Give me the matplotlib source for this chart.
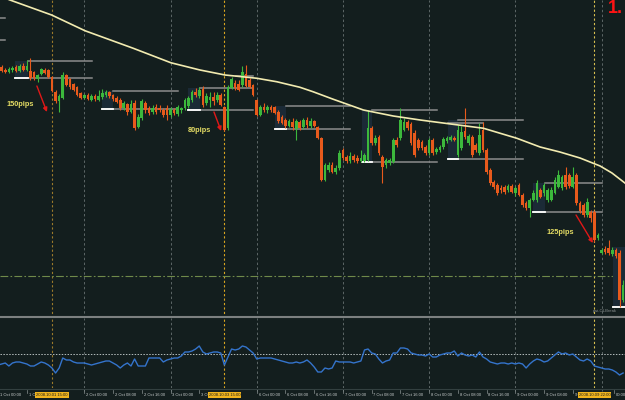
import matplotlib
matplotlib.use('Agg')
import matplotlib.pyplot as plt
from matplotlib.lines import Line2D
import numpy as np

# EURUSD H1, bar 0 = 1 Oct 2008 00:00 (weekend skipped)
opens = [1.4074, 1.4082, 1.4070, 1.4062, 1.4070, 1.4082, 1.4066, 1.4086, 1.4070, 1.4066,
         1.4062, 1.4034, 1.4054, 1.4070, 1.4070, 1.4042, 1.3982, 1.3946, 1.3958, 1.4050,
         1.4034, 1.4014, 1.4002, 1.3978, 1.3958, 1.3970, 1.3950, 1.3966, 1.3950, 1.3962,
         1.3970, 1.3982, 1.3970, 1.3958, 1.3950, 1.3918, 1.3934, 1.3902, 1.3938, 1.3842,
         1.3878, 1.3938, 1.3918, 1.3902, 1.3922, 1.3918, 1.3910, 1.3918, 1.3890, 1.3910,
         1.3894, 1.3910, 1.3918, 1.3926, 1.3950, 1.3982, 1.3966, 1.3994, 1.3938, 1.3950,
         1.3962, 1.3950, 1.3970, 1.3922, 1.3838, 1.3998, 1.4018, 1.4014, 1.4010, 1.4054,
         1.4030, 1.4010, 1.3950, 1.3890, 1.3922, 1.3910, 1.3922, 1.3922, 1.3902, 1.3882,
         1.3870, 1.3846, 1.3862, 1.3834, 1.3862, 1.3842, 1.3870, 1.3846, 1.3866, 1.3842,
         1.3798, 1.3630, 1.3670, 1.3690, 1.3662, 1.3678, 1.3750, 1.3722, 1.3706, 1.3726,
         1.3718, 1.3706, 1.3706, 1.3710, 1.3838, 1.3778, 1.3802, 1.3722, 1.3690, 1.3698,
         1.3702, 1.3790, 1.3798, 1.3830, 1.3862, 1.3854, 1.3818, 1.3790, 1.3782, 1.3762,
         1.3738, 1.3790, 1.3742, 1.3750, 1.3762, 1.3786, 1.3790, 1.3798, 1.3730, 1.3758,
         1.3826, 1.3778, 1.3802, 1.3770, 1.3738, 1.3830, 1.3750, 1.3670, 1.3622, 1.3610,
         1.3598, 1.3602, 1.3590, 1.3606, 1.3578, 1.3610, 1.3570, 1.3538, 1.3518, 1.3550,
         1.3550, 1.3590, 1.3578, 1.3550, 1.3550, 1.3578, 1.3602, 1.3598, 1.3650, 1.3650,
         1.3602, 1.3650, 1.3538, 1.3530, 1.3490, 1.3502, 1.3502, 1.3398, 1.3338, 1.3354,
         1.3358, 1.3334, 1.3350, 1.3338, 1.3150]
highs = [1.4086, 1.4090, 1.4078, 1.4082, 1.4086, 1.4090, 1.4094, 1.4098, 1.4110, 1.4118,
         1.4066, 1.4054, 1.4078, 1.4078, 1.4074, 1.4046, 1.3990, 1.3974, 1.4062, 1.4054,
         1.4038, 1.4018, 1.4006, 1.3982, 1.3974, 1.3978, 1.3974, 1.3974, 1.3990, 1.3994,
         1.3990, 1.3986, 1.3974, 1.3966, 1.3958, 1.3946, 1.3938, 1.3950, 1.3950, 1.3894,
         1.3954, 1.3946, 1.3926, 1.3930, 1.3934, 1.3930, 1.3918, 1.3930, 1.3922, 1.3918,
         1.3930, 1.3922, 1.3958, 1.3966, 1.3990, 1.3998, 1.4002, 1.4006, 1.3978, 1.3982,
         1.3982, 1.3982, 1.3978, 1.3926, 1.4010, 1.4042, 1.4030, 1.4030, 1.4086, 1.4090,
         1.4038, 1.4014, 1.3954, 1.3930, 1.3938, 1.3930, 1.3930, 1.3926, 1.3910, 1.3890,
         1.3878, 1.3874, 1.3878, 1.3874, 1.3870, 1.3878, 1.3882, 1.3878, 1.3870, 1.3846,
         1.3802, 1.3698, 1.3702, 1.3702, 1.3690, 1.3750, 1.3758, 1.3730, 1.3742, 1.3734,
         1.3730, 1.3750, 1.3738, 1.3910, 1.3846, 1.3810, 1.3810, 1.3730, 1.3718, 1.3718,
         1.3798, 1.3802, 1.3918, 1.3878, 1.3870, 1.3862, 1.3830, 1.3798, 1.3790, 1.3770,
         1.3798, 1.3798, 1.3762, 1.3770, 1.3802, 1.3806, 1.3810, 1.3806, 1.3850, 1.3846,
         1.3918, 1.3814, 1.3810, 1.3778, 1.3858, 1.3862, 1.3758, 1.3678, 1.3630, 1.3618,
         1.3610, 1.3610, 1.3614, 1.3614, 1.3606, 1.3618, 1.3578, 1.3546, 1.3558, 1.3590,
         1.3630, 1.3598, 1.3618, 1.3598, 1.3602, 1.3642, 1.3670, 1.3650, 1.3682, 1.3658,
         1.3682, 1.3658, 1.3546, 1.3538, 1.3558, 1.3510, 1.3510, 1.3418, 1.3358, 1.3366,
         1.3390, 1.3362, 1.3358, 1.3350, 1.3230]
lows = [1.4062, 1.4062, 1.4058, 1.4058, 1.4062, 1.4062, 1.4062, 1.4066, 1.4066, 1.4030,
        1.4030, 1.4022, 1.4050, 1.4054, 1.4038, 1.3982, 1.3938, 1.3902, 1.3954, 1.4006,
        1.3994, 1.3986, 1.3966, 1.3954, 1.3954, 1.3950, 1.3946, 1.3946, 1.3946, 1.3954,
        1.3962, 1.3958, 1.3946, 1.3938, 1.3910, 1.3910, 1.3890, 1.3898, 1.3830, 1.3838,
        1.3870, 1.3898, 1.3890, 1.3894, 1.3894, 1.3902, 1.3882, 1.3870, 1.3882, 1.3890,
        1.3886, 1.3898, 1.3910, 1.3918, 1.3942, 1.3962, 1.3958, 1.3922, 1.3930, 1.3922,
        1.3930, 1.3942, 1.3926, 1.3826, 1.3830, 1.3994, 1.3990, 1.3986, 1.4002, 1.4002,
        1.3998, 1.3966, 1.3886, 1.3886, 1.3902, 1.3898, 1.3902, 1.3894, 1.3858, 1.3854,
        1.3838, 1.3842, 1.3830, 1.3790, 1.3830, 1.3834, 1.3838, 1.3838, 1.3842, 1.3794,
        1.3626, 1.3626, 1.3662, 1.3658, 1.3654, 1.3670, 1.3710, 1.3698, 1.3698, 1.3702,
        1.3698, 1.3702, 1.3702, 1.3706, 1.3770, 1.3770, 1.3730, 1.3618, 1.3678, 1.3690,
        1.3698, 1.3762, 1.3790, 1.3826, 1.3830, 1.3770, 1.3722, 1.3750, 1.3750, 1.3730,
        1.3730, 1.3730, 1.3734, 1.3742, 1.3754, 1.3778, 1.3786, 1.3786, 1.3722, 1.3750,
        1.3794, 1.3770, 1.3722, 1.3742, 1.3730, 1.3742, 1.3654, 1.3610, 1.3594, 1.3570,
        1.3578, 1.3574, 1.3582, 1.3578, 1.3566, 1.3566, 1.3522, 1.3510, 1.3482, 1.3546,
        1.3542, 1.3558, 1.3566, 1.3542, 1.3546, 1.3574, 1.3598, 1.3590, 1.3594, 1.3598,
        1.3598, 1.3530, 1.3498, 1.3482, 1.3482, 1.3462, 1.3382, 1.3390, 1.3334, 1.3334,
        1.3330, 1.3326, 1.3318, 1.3122, 1.3142]
closes = [1.4070, 1.4066, 1.4062, 1.4074, 1.4078, 1.4066, 1.4086, 1.4070, 1.4086, 1.4038,
          1.4038, 1.4050, 1.4074, 1.4058, 1.4042, 1.3986, 1.3946, 1.3966, 1.4050, 1.4010,
          1.4002, 1.3990, 1.3970, 1.3958, 1.3970, 1.3954, 1.3966, 1.3954, 1.3966, 1.3978,
          1.3982, 1.3966, 1.3954, 1.3942, 1.3918, 1.3938, 1.3902, 1.3934, 1.3838, 1.3882,
          1.3946, 1.3910, 1.3898, 1.3918, 1.3902, 1.3910, 1.3890, 1.3890, 1.3914, 1.3898,
          1.3922, 1.3918, 1.3950, 1.3958, 1.3982, 1.3970, 1.3990, 1.3930, 1.3966, 1.3962,
          1.3946, 1.3970, 1.3930, 1.3830, 1.4002, 1.4034, 1.3998, 1.3990, 1.4062, 1.4006,
          1.4002, 1.3970, 1.3890, 1.3922, 1.3910, 1.3922, 1.3910, 1.3898, 1.3866, 1.3858,
          1.3846, 1.3866, 1.3842, 1.3866, 1.3838, 1.3870, 1.3850, 1.3866, 1.3846, 1.3798,
          1.3630, 1.3690, 1.3690, 1.3662, 1.3678, 1.3738, 1.3718, 1.3706, 1.3726, 1.3710,
          1.3706, 1.3718, 1.3730, 1.3838, 1.3778, 1.3798, 1.3738, 1.3682, 1.3710, 1.3710,
          1.3790, 1.3770, 1.3870, 1.3862, 1.3838, 1.3778, 1.3730, 1.3758, 1.3758, 1.3738,
          1.3790, 1.3738, 1.3754, 1.3762, 1.3794, 1.3798, 1.3802, 1.3790, 1.3830, 1.3822,
          1.3802, 1.3806, 1.3730, 1.3750, 1.3810, 1.3750, 1.3662, 1.3618, 1.3602, 1.3578,
          1.3590, 1.3582, 1.3606, 1.3582, 1.3598, 1.3570, 1.3530, 1.3518, 1.3550, 1.3578,
          1.3618, 1.3562, 1.3610, 1.3590, 1.3590, 1.3630, 1.3650, 1.3642, 1.3602, 1.3606,
          1.3642, 1.3538, 1.3506, 1.3490, 1.3542, 1.3478, 1.3390, 1.3410, 1.3350, 1.3342,
          1.3338, 1.3350, 1.3326, 1.3150, 1.3210]

# moving average, read at a few bars
ma_bars = [0.5, 3.3, 14.9, 24.2, 37.6, 48.1, 56.2, 63.2, 72.0, 77.6, 84.0, 87.7,
           93.3, 101.7, 110.0, 117.5, 121.2, 135.1, 144.4, 150.9, 156.4, 162.0, 167.6,
           170.9, 174.5]
ma_vals = [1.4366, 1.4350, 1.4290, 1.4227, 1.4157, 1.4099, 1.4070, 1.4050, 1.4037, 1.4023,
           1.4001, 1.3983, 1.3953, 1.3910, 1.3886, 1.3870, 1.3863, 1.3837, 1.3797, 1.3762,
           1.3742, 1.3718, 1.3686, 1.3658, 1.3618]

# lower window oscillator, one value per bar
osc = [-11, -10, -9, -12, -9, -8, -8, -9, -10, -12,
       -12, -10, -8, -9, -11, -14, -19, -14, -4, -6,
       -6, -8, -9, -9, -9, -10, -11, -10, -9, -8,
       -7, -7, -9, -11, -14, -11, -9, -12, -5, -12,
       -12, -12, -4, -4, -4, -4, -8, -6, -5, -4,
       -4, -2, 2, 2, 3, 5, 8, 2, 0, 1,
       2, 2, 1, -11, -3, 5, 4, 5, 8, 7,
       4, 1, -5, -4, -4, -4, -4, -5, -6, -7,
       -8, -9, -9, -8, -9, -8, -6, -9, -13, -18,
       -18, -14, -15, -14, -7, -8, -8, -8, -8, -9,
       -8, -7, 4, 5, 1, 0, -5, -9, -7, -6,
       1, 1, 6, 6, 5, 1, 0, -1, -1, -2,
       0, -3, -3, -1, 0, 1, 1, 3, -2, 1,
       -1, -2, -1, -3, 2, -3, -5, -8, -9, -10,
       -9, -9, -10, -9, -10, -9, -10, -14, -10, -7,
       -5, -6, -8, -7, -4, -1, 2, 0, 1, -1,
       0, -3, -6, -7, -5, -7, -12, -13, -14, -15,
       -15, -16, -18, -21, -19]

# session range boxes
box_start = [4.7, 28.9, 52.9, 77.1, 101.3, 125.3, 148.9, 171.2]
box_end = [8.3, 32.0, 56.2, 80.2, 104.1, 128.0, 152.3, 175.0]
line_end = [26.1, 50.1, 71.0, 98.0, 122.2, 146.1, 168.1, 175.0]
box_top = [1.4106, 1.3986, 1.3998, 1.3926, 1.3910, 1.3870, 1.3618, 1.3362]
box_bottom = [1.4038, 1.3914, 1.3910, 1.3834, 1.3702, 1.3714, 1.3502, 1.3122]
extra_lines = [(66.2, 71.0, 1.4046), (125.3, 135.0, 1.3858), (0.5, 1.9, 1.4278), (0.5, 1.9, 1.4190)]

pip_labels = ['150pips', '80pips', '125pips']
pip_x = [6.1, 56.1, 156.6]
pip_y = [1.3932, 1.3830, 1.3421]
arrow_from = [(10.8, 1.4006), (60.1, 1.3902), (160.9, 1.3490)]
arrow_to = [(13.6, 1.3902), (62.1, 1.3826), (165.6, 1.3378)]

day_bars = [24, 48, 72, 96, 120, 144, 168]
marker_bars = [15, 63, 166]
marker_labels = ['2008.10.01 15:00', '2008.10.03 15:00', '2008.10.09 22:00']
marker_colors = ['#9c7a2a', '#d9a520', '#d8c050']
# labels partly hidden behind the marker boxes are cut as in the terminal
tick_bars = [0, 8, 24, 32, 40, 48, 56, 72, 80, 88, 96, 104, 112, 120, 128, 136, 144,
             152, 160, 171.6]
tick_labels = ['1 Oct 00:00', '1 O', '2 Oct 00:00', '2 Oct 08:00', '2 Oct 16:00',
               '3 Oct 00:00', '3 O', '6 Oct 00:00', '6 Oct 08:00', '6 Oct 16:00',
               '7 Oct 00:00', '7 Oct 08:00', '7 Oct 16:00', '8 Oct 00:00', '8 Oct 08:00',
               '8 Oct 16:00', '9 Oct 00:00', '9 Oct 08:00', '9', '00:00']

BG = '#131e1e'
BULL = '#3cb83c'
BEAR = '#e85a1c'
GRID = '#5d6767'
XLIM = (0.53, 174.53)

plt.rcParams['font.family'] = ['Liberation Sans', 'DejaVu Sans']

fig = plt.figure(figsize=(6.25, 4), dpi=100, facecolor=BG)
ax = fig.add_axes([0, 82 / 400, 1, 318 / 400])
ind = fig.add_axes([0, 12 / 400, 1, 70 / 400])
tax = fig.add_axes([0, 0, 1, 12 / 400])
for a in (ax, ind, tax):
    a.set_facecolor(BG)
    a.set_xlim(*XLIM)
    a.axis('off')
ax.set_ylim(1.3078, 1.4350)
ind.set_ylim(-34, 36)
tax.set_ylim(0, 1)

# grid and event markers
for b in day_bars:
    for a in (ax, ind):
        a.axvline(b, color=GRID, lw=0.7, ls=(0, (2.5, 2.5)), zorder=1)
    tax.plot([b, b], [0.75, 1], color=GRID, lw=0.7, ls=(0, (2, 2)))
for b, c in zip(marker_bars, marker_colors):
    for a in (ax, ind):
        a.axvline(b, color=c, lw=0.8, ls=(0, (2, 2)), zorder=1)

# range boxes
for s, e, le, t, bt in zip(box_start, box_end, line_end, box_top, box_bottom):
    ax.fill_between([s, e], bt, t, color='#1b2a36', lw=0, zorder=1.5)
    ax.plot([e, le], [t, t], color='#8c8c8c', lw=1.1, zorder=2)
    ax.plot([s, le], [bt, bt], color='#8c8c8c', lw=1.1, zorder=2)
    ax.plot([s, e], [bt, bt], color='white', lw=1.3, zorder=2.5)
for s, e, v in extra_lines:
    ax.plot([s, e], [v, v], color='#8c8c8c', lw=1.1, zorder=2)

ax.axhline(1.3246, color='#6f8a4a', lw=0.8, ls=(0, (7, 2, 1.5, 2)), zorder=1)

# candles
o = np.array(opens)
h = np.array(highs)
l = np.array(lows)
c = np.array(closes)
idx = np.arange(len(o))
cols = np.where(c >= o, BULL, BEAR)
ax.vlines(idx, l, h, colors=cols, lw=0.8, zorder=3)
ax.bar(idx, np.maximum(np.abs(c - o), 0.0003), bottom=np.minimum(o, c), width=0.74,
       color=cols, lw=0, zorder=4)

ax.plot(ma_bars, ma_vals, color='#f2ebb0', lw=1.2, zorder=5)

for txt, x, y in zip(pip_labels, pip_x, pip_y):
    ax.text(x, y, txt, color='#e4dc64', fontsize=5.3, fontweight='bold',
            ha='center', va='center', zorder=6)
for p0, p1 in zip(arrow_from, arrow_to):
    ax.annotate('', xy=p1, xytext=p0, zorder=6,
                arrowprops=dict(arrowstyle='-|>', color='#e01818', lw=1.0,
                                mutation_scale=6, shrinkA=0, shrinkB=0))

# oscillator window
ind.axhline(0, color='#b4bcbc', lw=0.7, ls=(0, (1.5, 1.5)), zorder=1)
ind.plot(idx, osc, color='#3474cc', lw=1.0, zorder=3)

# window separators
fig.add_artist(Line2D([0, 1], [83.5 / 400, 83.5 / 400], color='#7c8080', lw=1.5))
fig.add_artist(Line2D([0, 1], [11.5 / 400, 11.5 / 400], color='#334040', lw=0.8))

# time axis
for b, t in zip(tick_bars, tick_labels):
    tax.plot([b, b], [0.55, 0.85], color='#8a9292', lw=0.5)
    tax.text(b + 0.5, 0.42, t, color='#c8cccc', fontsize=3.0, ha='left', va='center')
for b, t in zip(marker_bars, marker_labels):
    tax.text(b, 0.42, t, color='#1a1a1a', fontsize=3.0, ha='center', va='center', zorder=5,
             bbox=dict(boxstyle='square,pad=0.25', fc='#f0b41e', ec='none'))

fig.text(608 / 625, 0.999, '1.', color='#ff1414', fontsize=13, fontweight='bold',
         ha='left', va='top')
fig.text(593 / 625, (400 - 311) / 400, 'pwi-OLBreak', color='#8a9090', fontsize=3.0,
         ha='left', va='center')

fig.savefig('out.png', dpi=100, facecolor=BG)
